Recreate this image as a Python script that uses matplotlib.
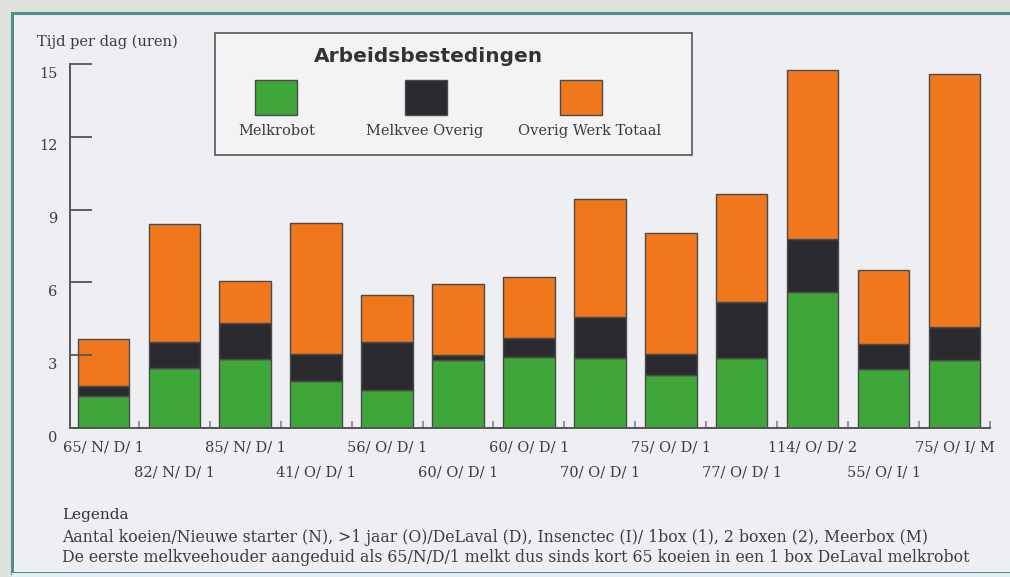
import numpy as np
import matplotlib
matplotlib.use('Agg')
from matplotlib import pyplot as plt
from matplotlib.patches import Rectangle
from matplotlib.transforms import ScaledTranslation

labels = ['65/ N/ D/ 1', '82/ N/ D/ 1', '85/ N/ D/ 1', '41/ O/ D/ 1', '56/ O/ D/ 1',
          '60/ O/ D/ 1', '60/ O/ D/ 1', '70/ O/ D/ 1', '75/ O/ D/ 1', '77/ O/ D/ 1',
          '114/ O/ D/ 2', '55/ O/ I/ 1', '75/ O/ I/ M']
# cumulative heights (uren per dag)
melkrobot = [1.32, 2.49, 2.84, 1.94, 1.57, 2.81, 2.92, 2.88, 2.19, 2.87, 5.59, 2.43, 2.81]
melkvee_top = [1.75, 3.53, 4.33, 3.06, 3.53, 3.02, 3.69, 4.56, 3.05, 5.18, 7.80, 3.48, 4.17]
totaal = [3.68, 8.42, 6.05, 8.46, 5.50, 5.94, 6.21, 9.42, 8.03, 9.66, 14.75, 6.52, 14.59]
yticks = [0, 3, 6, 9, 12, 15]

green = '#3fa63a'
dark = '#2b2b2f'
orange = '#f0771c'
txt = '#3c3c3c'
serif = 'DejaVu Serif'

W, H = 1010, 577
fig = plt.figure(figsize=(W / 100, H / 100), dpi=100)
fig.patch.set_facecolor('#dfe3dc')

def box(x0, y0, x1, y1, **kw):
    # rectangle in pixel coords (origin top-left)
    r = Rectangle((x0 / W, 1 - y1 / H), (x1 - x0) / W, (y1 - y0) / H,
                  transform=fig.transFigure, **kw)
    fig.add_artist(r)
    return r

# page panel
box(12, 13, W + 5, 573, facecolor='#eeeff3', edgecolor='#4f8f8c', lw=2.2, zorder=0)
box(12, 573, W + 5, H + 5, facecolor='#e4edf4', edgecolor='none', zorder=0)

ax = fig.add_axes([70 / W, 1 - 428 / H, 920 / W, 364 / H])
ax.set_facecolor('none')

x = np.arange(len(labels))
b1 = np.array(melkrobot)
b2 = np.array(melkvee_top) - b1
b3 = np.array(totaal) - np.array(melkvee_top)
bw = 0.725
ec = '#4a4a4a'
ax.bar(x, b1, bw, color=green, edgecolor=ec, lw=1)
ax.bar(x, b2, bw, bottom=b1, color=dark, edgecolor=ec, lw=1)
ax.bar(x, b3, bw, bottom=b1 + b2, color=orange, edgecolor=ec, lw=1)

ax.set_xlim(-0.47, 12.47)
ax.set_ylim(0, 15)
for s in ['top', 'right']:
    ax.spines[s].set_visible(False)
for s in ['left', 'bottom']:
    ax.spines[s].set_color('#555555')
    ax.spines[s].set_linewidth(1.4)

ax.set_yticks(yticks)
ax.set_yticklabels([str(v) for v in yticks], family=serif, fontsize=10.5, color=txt)
ax.tick_params(axis='y', direction='in', length=16, width=1.3, color='#555555', pad=9)
for lab in ax.get_yticklabels():
    lab.set_transform(lab.get_transform() + ScaledTranslation(0, -0.08, fig.dpi_scale_trans))

ax.set_xticks(x)
ax.set_xticklabels(labels, family=serif, fontsize=10.5, color=txt)
ax.tick_params(axis='x', length=0, pad=9)
for i, lab in enumerate(ax.get_xticklabels()):
    if i % 2:
        lab.set_transform(lab.get_transform() + ScaledTranslation(0, -0.25, fig.dpi_scale_trans))
ax.set_xticks(x + 0.5, minor=True)
ax.tick_params(axis='x', which='minor', direction='in', length=5, width=1.2, color='#8a7d98')

fig.text(37 / W, 1 - 42 / H, 'Tijd per dag (uren)', family=serif, fontsize=10.5,
         color=txt, va='center', ha='left')

# legend box
box(215, 33, 692, 155, facecolor='#f3f3f6', edgecolor='#555555', lw=1.2, zorder=3)
fig.text(428 / W, 1 - 57 / H, 'Arbeidsbestedingen', fontsize=14.5, fontweight='bold',
         color='#333333', ha='center', va='center', zorder=4)
leg = [('Melkrobot', green, 276), ('Melkvee Overig', dark, 426), ('Overig Werk Totaal', orange, 581)]
for name, col, cx in leg:
    box(cx - 21, 80, cx + 21, 115, facecolor=col, edgecolor=ec, lw=1, zorder=4)
tx = [277, 425, 590]
for (name, col, cx), t in zip(leg, tx):
    fig.text(t / W, 1 - 131 / H, name, family=serif, fontsize=10.5, color=txt,
             ha='center', va='center', zorder=4)

# legenda onderaan
fig.text(62 / W, 1 - 515 / H, 'Legenda', family=serif, fontsize=11, color='#333333',
         va='center')
fig.text(62 / W, 1 - 537 / H,
         'Aantal koeien/Nieuwe starter (N), >1 jaar (O)/DeLaval (D), Insenctec (I)/ 1box (1), 2 boxen (2), Meerbox (M)',
         family=serif, fontsize=11.3, color=txt, va='center')
fig.text(62 / W, 1 - 557 / H,
         'De eerste melkveehouder aangeduid als 65/N/D/1 melkt dus sinds kort 65 koeien in een 1 box DeLaval melkrobot',
         family=serif, fontsize=11.3, color=txt, va='center')

fig.savefig('out.png', dpi=100, facecolor=fig.get_facecolor())
